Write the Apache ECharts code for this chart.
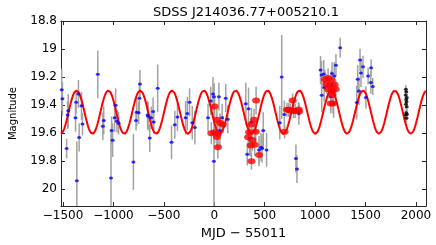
<!DOCTYPE html>
<html>
<head>
<meta charset="utf-8">
<script src="https://cdn.jsdelivr.net/npm/echarts@6/dist/echarts.min.js"></script>
<style>html,body{margin:0;padding:0;background:#fff}#c{width:436px;height:245px}</style>
</head>
<body>
<div id="c"></div>
<script>
const TITLE = 'SDSS J214036.77+005210.1';
const X_NAME = 'MJD \u2212 55011';
const Y_NAME = 'Magnitude';
const X_MIN = -1520, X_MAX = 2100;
const Y_MIN = 18.8, Y_MAX = 20.12;
const X_TICKS = [-1500, -1000, -500, 0, 500, 1000, 1500, 2000];
const Y_TICKS = [18.8, 19, 19.2, 19.4, 19.6, 19.8, 20];

// blue photometry points
const blueX =   [-1513,-1506,-1454,-1448,-1464,-1363,-1347,-1370,-1317,-1376,-1307,-1340,-1155,-978,-1096,-1105,-988,-965,-949,-1018,-1008,-1024,-737,-743,-769,-750,-776,-802,-661,-640,
                 -561,-655,-626,-607,-600,-424,-391,-365,-284,-267,-245,-218,-192,-62,-35,-13,-3,46,114,78,134,56,-3,
                 313,340,369,486,350,327,444,464,474,519,669,650,695,839,810,820,
                 1054,1064,1086,1090,1066,1168,1190,1168,1207,1249,1155,1184,1446,1475,1455,1423,1435,1413,1504,1556,1526,1553,1572];
const blueMag = [19.29,19.355,19.47,19.44,19.71,19.94,19.32,19.38,19.405,19.49,19.535,19.63,19.18,19.40,19.51,19.55,19.49,19.515,19.53,19.58,19.65,19.92,19.25,19.35,19.45,19.455,19.51,19.805,19.47,19.635,
                 19.28,19.48,19.49,19.445,19.52,19.665,19.54,19.485,19.49,19.46,19.38,19.525,19.56,19.49,19.37,19.32,19.34,19.34,19.35,19.49,19.50,19.58,19.80,
                 19.39,19.425,19.52,19.58,19.64,19.75,19.72,19.70,19.71,19.72,19.20,19.525,19.467,19.46,19.78,19.855,
                 19.15,19.185,19.178,19.275,19.33,19.175,19.193,19.26,19.115,18.99,19.34,19.39,19.078,19.127,19.171,19.215,19.30,19.382,19.345,19.133,19.193,19.238,19.267];
const blueErr = [0.15,0.12,0.10,0.12,0.07,0.28,0.10,0.08,0.10,0.10,0.08,0.10,0.17,0.12,0.10,0.10,0.10,0.08,0.08,0.10,0.12,0.35,0.10,0.10,0.10,0.08,0.07,0.20,0.10,0.10,
                 0.17,0.10,0.08,0.10,0.08,0.12,0.10,0.10,0.12,0.12,0.10,0.12,0.12,0.10,0.10,0.12,0.10,0.10,0.10,0.10,0.10,0.12,0.55,
                 0.15,0.15,0.10,0.13,0.12,0.08,0.10,0.10,0.10,0.12,0.30,0.12,0.10,0.08,0.10,0.10,
                 0.10,0.10,0.10,0.10,0.12,0.08,0.10,0.10,0.08,0.07,0.10,0.10,0.08,0.08,0.10,0.10,0.10,0.12,0.08,0.06,0.06,0.08,0.06];

// red (large) points
const redX =   [4,26,59,85,4,36,36,26,-29,415,395,369,411,346,336,378,362,401,444,369,721,753,777,802,841,738,787,836,698,
                1097,1129,1161,1113,1149,1194,1129,1168,1204,1171,1178,1155];
const redMag = [19.41,19.505,19.527,19.538,19.593,19.604,19.70,19.627,19.60,19.367,19.505,19.538,19.589,19.593,19.629,19.649,19.687,19.682,19.755,19.80,19.433,19.438,19.367,19.442,19.445,19.433,19.442,19.431,19.589,
                19.215,19.207,19.22,19.249,19.26,19.255,19.287,19.30,19.287,19.327,19.389,19.389];
const redErr = [0.08,0.08,0.06,0.06,0.08,0.08,0.08,0.08,0.08,0.10,0.08,0.08,0.08,0.08,0.08,0.08,0.08,0.08,0.08,0.06,0.05,0.05,0.05,0.05,0.05,0.05,0.05,0.05,0.05,
                0.07,0.07,0.07,0.07,0.07,0.07,0.07,0.07,0.07,0.07,0.07,0.07];

// black points
const blackX =   [1900,1905,1898,1910,1903,1907,1901,1909,1904,1899,1906,1911];
const blackMag = [19.287,19.304,19.327,19.345,19.36,19.375,19.393,19.411,19.455,19.471,19.493,19.465];
const blackErr = [0.03,0.03,0.03,0.03,0.03,0.03,0.03,0.03,0.03,0.03,0.03,0.03];

// periodic model curve parameters
const MODEL_MEAN = 19.45, MODEL_AMP = 0.155, MODEL_PERIOD = 315.7, MODEL_PEAK = -1366;
const MODEL_STEP = 4;

const modelData = [];
for (let x = X_MIN; x <= X_MAX; x += MODEL_STEP) {
  modelData.push([x, MODEL_MEAN - MODEL_AMP * Math.cos(2 * Math.PI * (x - MODEL_PEAK) / MODEL_PERIOD)]);
}
const zip3 = (a, b, c) => a.map((v, i) => [v, b[i], c[i]]);
const errData = zip3(blueX, blueMag, blueErr).concat(zip3(redX, redMag, redErr)).concat(zip3(blackX, blackMag, blackErr));

function renderErr(params, api) {
  const x = api.value(0), m = api.value(1), e = api.value(2);
  const p1 = api.coord([x, Math.max(m - e, Y_MIN)]);
  const p2 = api.coord([x, Math.min(m + e, Y_MAX)]);
  return { type: 'line', shape: { x1: p1[0], y1: p1[1], x2: p2[0], y2: p2[1] },
           style: { stroke: '#a2a2a2', lineWidth: 1.5 } };
}

const FONT = 'DejaVu Sans';
const axisLineStyle = { color: '#262626', width: 1 };
const chart = echarts.init(document.getElementById('c'), null, { renderer: 'canvas' });
chart.setOption({
  animation: false,
  backgroundColor: '#fff',
  title: { text: TITLE, left: 241, top: 1, textAlign: 'center',
           textStyle: { fontFamily: FONT, fontSize: 13, fontWeight: 'normal', color: '#000' } },
  grid: { left: 56, right: 10, top: 21, bottom: 27 },
  xAxis: [
    { type: 'value', min: X_MIN, max: X_MAX, position: 'bottom',
      name: X_NAME, nameLocation: 'middle', nameGap: 15,
      nameTextStyle: { fontFamily: FONT, fontSize: 13, color: '#000' },
      axisLine: { show: true, onZero: false, lineStyle: axisLineStyle },
      axisTick: { show: true, inside: true, length: 4, customValues: X_TICKS, lineStyle: axisLineStyle },
      axisLabel: { customValues: X_TICKS, fontFamily: FONT, fontSize: 12, color: '#000', margin: 4,
                   formatter: v => String(v).replace('-', '\u2212') },
      splitLine: { show: false } },
    { type: 'value', min: X_MIN, max: X_MAX, position: 'top',
      axisLine: { show: true, onZero: false, lineStyle: axisLineStyle },
      axisTick: { show: true, inside: true, length: 4, customValues: X_TICKS, lineStyle: axisLineStyle },
      axisLabel: { show: false }, splitLine: { show: false } }
  ],
  yAxis: [
    { type: 'value', min: Y_MIN, max: Y_MAX, inverse: true, position: 'left',
      name: Y_NAME, nameLocation: 'middle', nameGap: 43, nameRotate: 90,
      nameTextStyle: { fontFamily: FONT, fontSize: 10, color: '#000' },
      axisLine: { show: true, onZero: false, lineStyle: axisLineStyle },
      axisTick: { show: true, inside: true, length: 4, customValues: Y_TICKS, lineStyle: axisLineStyle },
      axisLabel: { customValues: Y_TICKS, fontFamily: FONT, fontSize: 12, color: '#000', margin: 4 },
      splitLine: { show: false } },
    { type: 'value', min: Y_MIN, max: Y_MAX, inverse: true, position: 'right',
      axisLine: { show: true, onZero: false, lineStyle: axisLineStyle },
      axisTick: { show: true, inside: true, length: 4, customValues: Y_TICKS, lineStyle: axisLineStyle },
      axisLabel: { show: false }, splitLine: { show: false } }
  ],
  series: [
    { type: 'custom', name: 'err', renderItem: renderErr, data: errData, clip: true,
      encode: { x: 0, y: 1 }, z: 1 },
    { type: 'line', name: 'model', data: modelData, showSymbol: false, symbol: 'none',
      lineStyle: { color: '#ff0000', width: 2 }, z: 2, clip: true },
    { type: 'scatter', name: 'blue', data: blueX.map((v, i) => [v, blueMag[i]]),
      symbol: 'circle', symbolSize: [4, 3], itemStyle: { color: '#0000ff' }, z: 3 },
    { type: 'scatter', name: 'red', data: redX.map((v, i) => [v, redMag[i]]),
      symbol: 'circle', symbolSize: [8, 6], itemStyle: { color: '#ff0000' }, z: 4 },
    { type: 'scatter', name: 'black', data: blackX.map((v, i) => [v, blackMag[i]]),
      symbol: 'circle', symbolSize: [4, 3], itemStyle: { color: '#000000' }, z: 5 }
  ]
});
</script>
</body>
</html>
